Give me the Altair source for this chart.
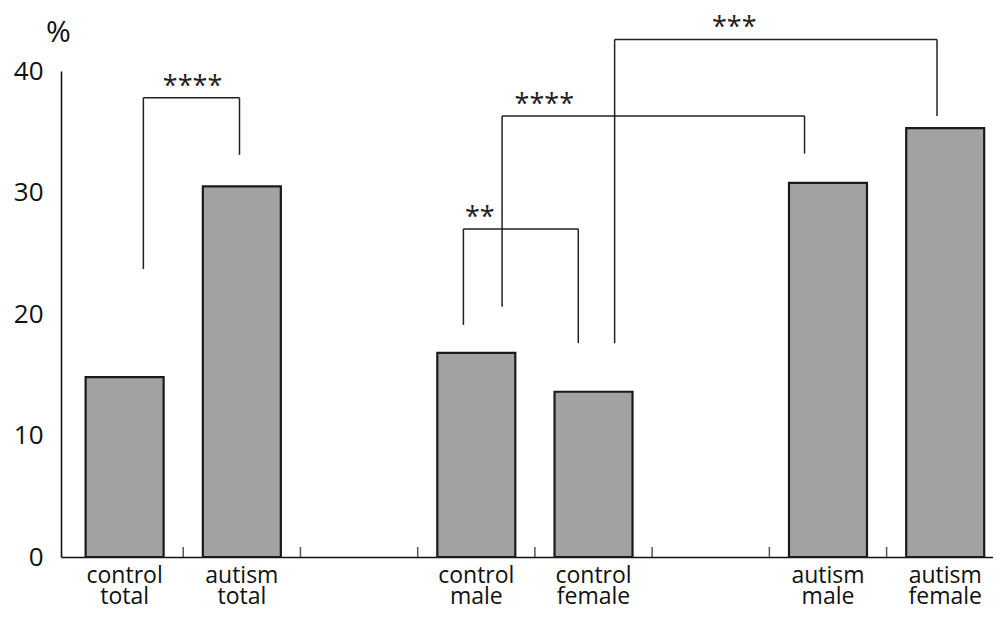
import altair as alt
import pandas as pd

# ---- data ----
categories = ["control\ntotal", "autism\ntotal", "control\nmale",
              "control\nfemale", "autism\nmale", "autism\nfemale"]
slots = [0.5, 1.5, 3.5, 4.5, 6.5, 7.5]          # position on the category axis
values = [14.8, 30.5, 16.8, 13.6, 30.8, 35.3]   # %
tick_positions = [1, 2, 3, 4, 5, 6, 7]
y_ticks = [0, 10, 20, 30, 40]

stars = ["****", "**", "****", "***"]
br_left = [0.66, 3.39, 3.72, 4.68]
br_right = [1.48, 4.37, 6.30, 7.43]
br_top = [37.8, 27.0, 36.3, 42.6]
br_left_bottom = [23.7, 19.1, 20.6, 17.6]
br_right_bottom = [33.1, 17.6, 33.2, 36.3]
star_x = [1.08, 3.53, 4.08, 5.70]

bars = pd.DataFrame({"cat": categories, "slot": slots, "value": values})
ticks = pd.DataFrame({"pos": tick_positions, "zero": [0] * len(tick_positions)})
brackets = pd.DataFrame({
    "stars": stars, "left": br_left, "right": br_right, "top": br_top,
    "lb": br_left_bottom, "rb": br_right_bottom, "sx": star_x,
})

W, H = 932, 486
FONT = "Open Sans"
YT = "%"
xs = alt.Scale(domain=[0, 7.865], nice=False, zero=False)
ys = alt.Scale(domain=[0, 40], nice=False)

bar_layer = alt.Chart(bars).mark_bar(
    size=78, color="#a2a2a2", stroke="#1a1a1a", strokeWidth=2.2
).encode(
    x=alt.X("slot:Q", scale=xs,
            axis=alt.Axis(ticks=False, labels=False, grid=False, title=None,
                          domainColor="#111", domainWidth=1.6)),
    y=alt.Y("value:Q", scale=ys, title=YT,
            axis=alt.Axis(values=y_ticks, ticks=False, grid=False,
                          labelFont=FONT, labelFontSize=26, labelColor="#111",
                          labelPadding=18, domainColor="#111", domainWidth=1.6)),
)

tick_layer = alt.Chart(ticks).mark_tick(
    orient="vertical", size=10, thickness=1.5, color="#111", yOffset=-5
).encode(
    x=alt.X("pos:Q", scale=xs, title=None),
    y=alt.Y("zero:Q", scale=ys, title=YT),
)

line_style = dict(color="#222", strokeWidth=1.5)
br_h = alt.Chart(brackets).mark_rule(**line_style).encode(
    x=alt.X("left:Q", scale=xs, title=None), x2="right:Q",
    y=alt.Y("top:Q", scale=ys, title=YT),
)
br_l = alt.Chart(brackets).mark_rule(**line_style).encode(
    x=alt.X("left:Q", scale=xs, title=None),
    y=alt.Y("top:Q", scale=ys, title=YT), y2="lb:Q",
)
br_r = alt.Chart(brackets).mark_rule(**line_style).encode(
    x=alt.X("right:Q", scale=xs, title=None),
    y=alt.Y("top:Q", scale=ys, title=YT), y2="rb:Q",
)
star_layer = alt.Chart(brackets).mark_text(
    font=FONT, fontSize=27, color="#222", align="center",
    baseline="alphabetic", dy=-3
).encode(
    x=alt.X("sx:Q", scale=xs, title=None),
    y=alt.Y("top:Q", scale=ys, title=YT),
    text="stars:N",
)

label_layer = alt.Chart(bars).mark_text(
    font=FONT, fontSize=23, color="#111", align="center",
    baseline="alphabetic", lineBreak="\n", lineHeight=21
).encode(
    x=alt.X("slot:Q", scale=xs, title=None),
    y=alt.value(H + 26),
    text="cat:N",
)

chart = alt.layer(
    bar_layer, tick_layer, br_h, br_l, br_r, star_layer, label_layer
).properties(
    width=W, height=H,
    autosize=alt.AutoSizeParams(type="none"),
    padding={"left": 53, "top": 63, "right": 0, "bottom": 52},
).configure_view(
    stroke=None
).configure_axisY(
    titleAngle=0, titleFont=FONT, titleFontSize=30, titleFontWeight="normal",
    titleColor="#111", titleX=-3, titleY=-30, titleAlign="center",
    titleBaseline="alphabetic",
)

chart.save("out.html", embed_options={"renderer": "svg", "actions": False})
